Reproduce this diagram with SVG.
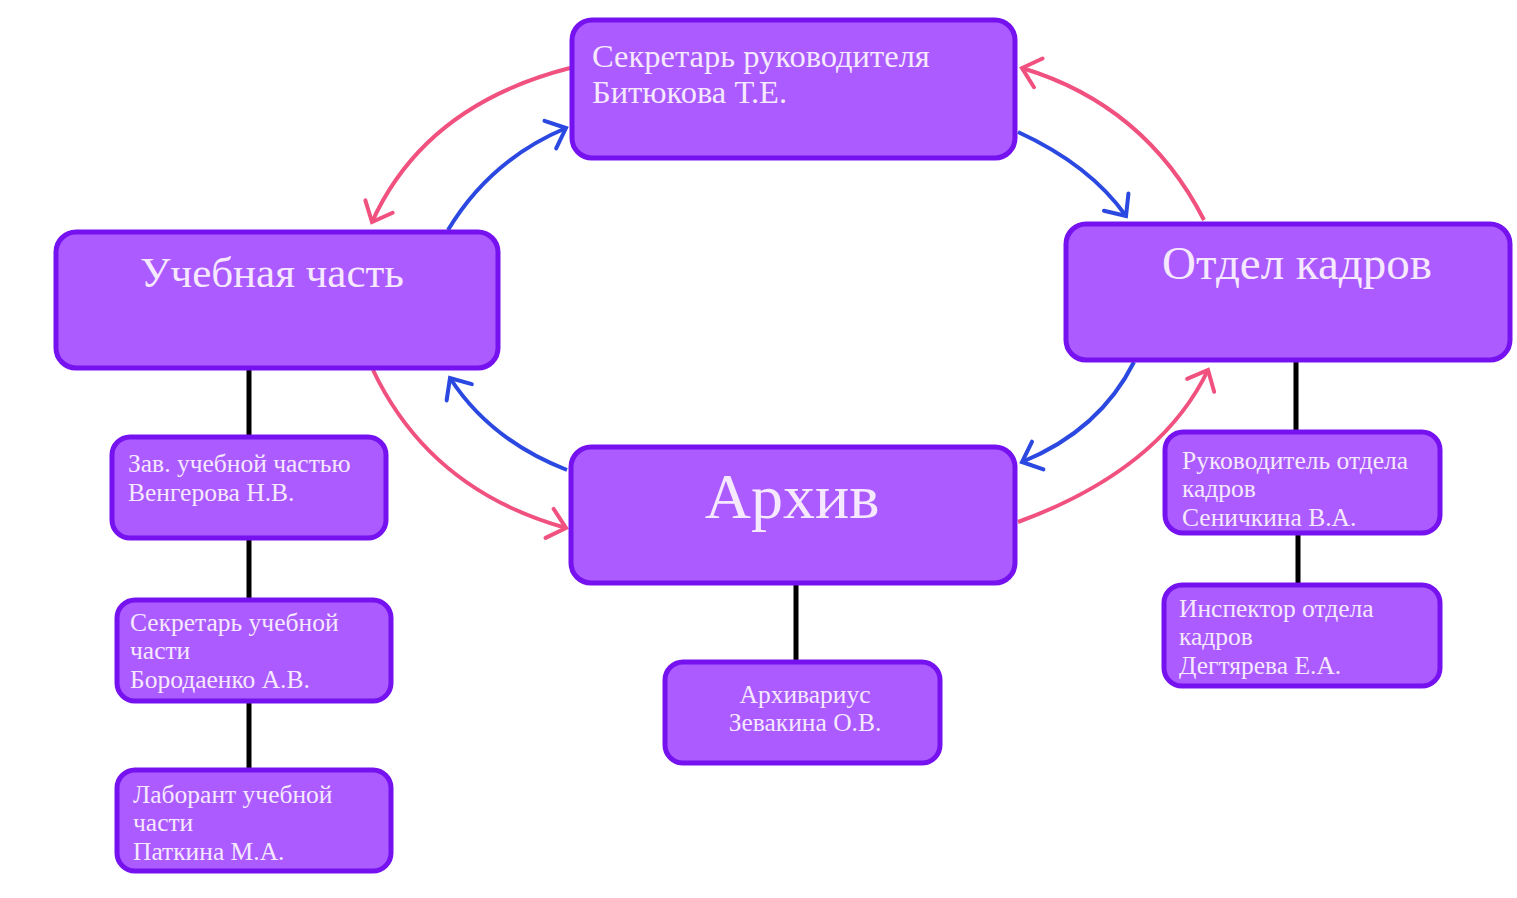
<svg xmlns="http://www.w3.org/2000/svg" width="1517" height="898" viewBox="0 0 1517 898">
<style>
.box{fill:#ab5bff;stroke:#7612f0;stroke-width:5}
.t{font-family:"Liberation Serif","Times New Roman",serif;fill:#f6e8ff}
.s{font-size:25.5px}
.line{stroke:#000;stroke-width:5;fill:none}
.pink{stroke:#f0517f;stroke-width:4;fill:none;marker-end:url(#mp)}
.blue{stroke:#2b48e0;stroke-width:4;fill:none;marker-end:url(#mb)}
</style>
<defs>
<marker id="mp" viewBox="0 0 12 12" refX="11" refY="6" markerWidth="12" markerHeight="12" orient="auto" markerUnits="userSpaceOnUse" style="overflow:visible">
<path d="M-6,-9 L11,6 L-6,21" fill="none" stroke="#f0517f" stroke-width="4" stroke-linecap="round"/>
</marker>
<marker id="mb" viewBox="0 0 12 12" refX="11" refY="6" markerWidth="12" markerHeight="12" orient="auto" markerUnits="userSpaceOnUse" style="overflow:visible">
<path d="M-6,-9 L11,6 L-6,21" fill="none" stroke="#2b48e0" stroke-width="4" stroke-linecap="round"/>
</marker>
</defs>
<rect width="1517" height="898" fill="#ffffff"/>
<g id="connectors">
<path class="line" d="M249,368 V437 M249,538 V600 M249,701 V770 M796,583 V662 M1296,360 V432 M1298,533 V585"/>
<path class="pink" d="M570,68 Q425,105 372,222"/>
<path class="blue" d="M448,230 Q490,160 566,128"/>
<path class="pink" d="M1204,220 Q1145,105 1022,68"/>
<path class="blue" d="M1018,132 Q1090,165 1126,216"/>
<path class="blue" d="M1134,362 Q1100,430 1022,462"/>
<path class="pink" d="M1018,522 Q1160,470 1208,370"/>
<path class="blue" d="M567,470 Q490,440 450,378"/>
<path class="pink" d="M373,370 Q430,490 566,528"/>
</g>
<g id="n-secretary">
<rect class="box" x="572" y="20" width="443" height="138" rx="20"/>
<text class="t" x="592" y="67" font-size="32.5">Секретарь руководителя</text>
<text class="t" x="592" y="103" font-size="32.5">Битюкова Т.Е.</text>
</g>
<g id="n-ucheb">
<rect class="box" x="56" y="232" width="442" height="136" rx="20"/>
<text class="t" x="272" y="287" font-size="43" text-anchor="middle">Учебная часть</text>
</g>
<g id="n-kadry">
<rect class="box" x="1066" y="224" width="444" height="136" rx="20"/>
<text class="t" x="1297" y="279" font-size="47" text-anchor="middle">Отдел кадров</text>
</g>
<g id="n-arhiv">
<rect class="box" x="571" y="447" width="444" height="136" rx="20"/>
<text class="t" x="792" y="518" font-size="64" text-anchor="middle">Архив</text>
</g>
<g id="n-zav">
<rect class="box" x="112" y="437" width="274" height="101" rx="18"/>
<text class="t s" x="128" y="472">Зав. учебной частью</text>
<text class="t s" x="128" y="501">Венгерова Н.В.</text>
</g>
<g id="n-sekr-ucheb">
<rect class="box" x="117" y="600" width="274" height="101" rx="18"/>
<text class="t s" x="130" y="631">Секретарь учебной</text>
<text class="t s" x="130" y="659">части</text>
<text class="t s" x="130" y="688">Бородаенко А.В.</text>
</g>
<g id="n-lab">
<rect class="box" x="117" y="770" width="274" height="101" rx="18"/>
<text class="t s" x="133" y="803">Лаборант учебной</text>
<text class="t s" x="133" y="831">части</text>
<text class="t s" x="133" y="860">Паткина М.А.</text>
</g>
<g id="n-arhivarius">
<rect class="box" x="665" y="662" width="275" height="101" rx="18"/>
<text class="t s" x="805" y="703" text-anchor="middle">Архивариус</text>
<text class="t s" x="805" y="731" text-anchor="middle">Зевакина О.В.</text>
</g>
<g id="n-ruk-kadry">
<rect class="box" x="1165" y="432" width="275" height="101" rx="18"/>
<text class="t s" x="1182" y="469">Руководитель отдела</text>
<text class="t s" x="1182" y="497">кадров</text>
<text class="t s" x="1182" y="526">Сеничкина В.А.</text>
</g>
<g id="n-inspector">
<rect class="box" x="1164" y="585" width="276" height="101" rx="18"/>
<text class="t s" x="1179" y="617">Инспектор отдела</text>
<text class="t s" x="1179" y="645">кадров</text>
<text class="t s" x="1179" y="674">Дегтярева Е.А.</text>
</g>
</svg>
